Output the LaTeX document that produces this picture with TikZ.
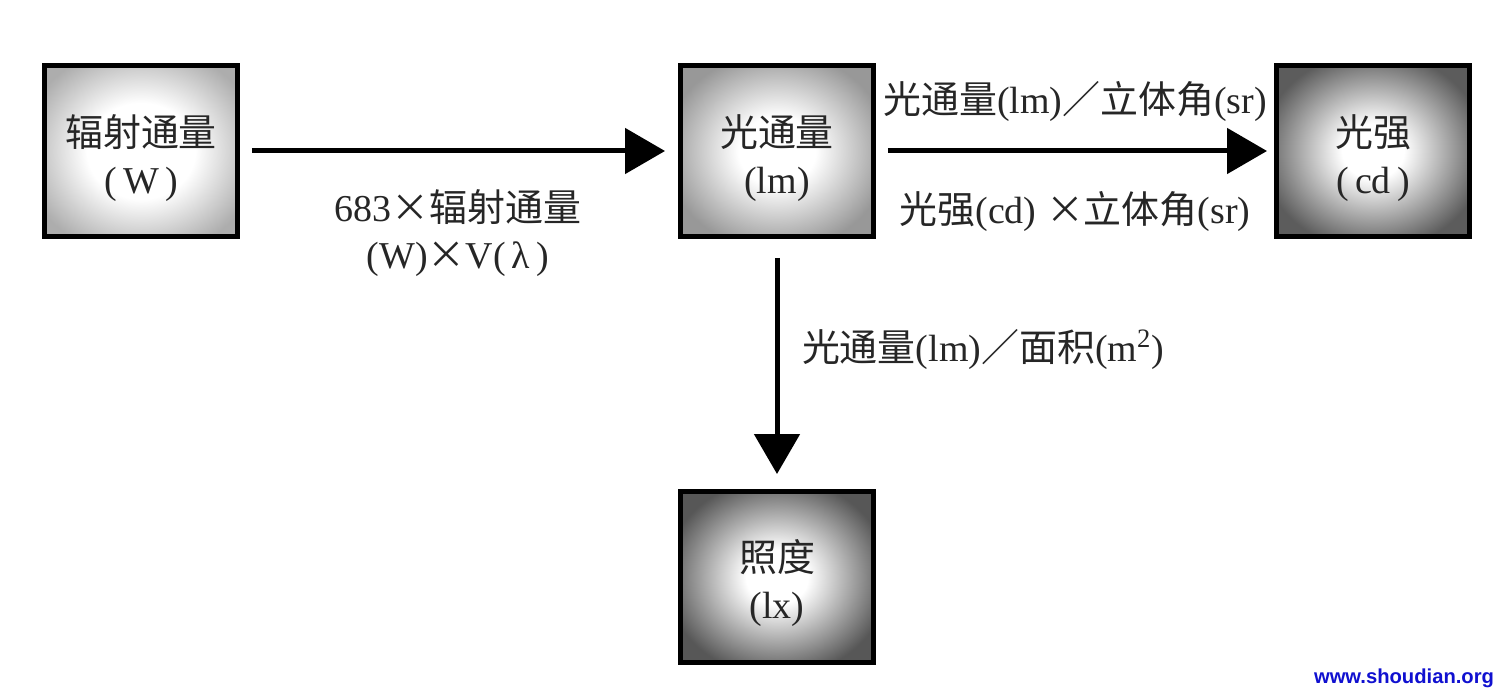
\documentclass[tikz,border=0pt]{standalone}
\usepackage{fontspec}
\setmainfont{Liberation Serif}
\newfontfamily\cjk{Noto Sans CJK SC}
\newfontfamily\wmfont{Liberation Sans}
\usetikzlibrary{arrows.meta}
\definecolor{txt}{HTML}{262626}
\definecolor{gA}{HTML}{ADADAD}
\definecolor{gB}{HTML}{989898}
\definecolor{gC}{HTML}{5C5C5C}
\definecolor{gD}{HTML}{575757}
\definecolor{wmblue}{HTML}{1010D0}
\pgfdeclareradialshading{glowA}{\pgfpoint{0bp}{0bp}}{color(0bp)=(white); color(14bp)=(white); color(31bp)=(gA); color(50bp)=(gA)}
\pgfdeclareradialshading{glowB}{\pgfpoint{0bp}{0bp}}{color(0bp)=(white); color(10bp)=(white); color(29bp)=(gB); color(50bp)=(gB)}
\pgfdeclareradialshading{glowC}{\pgfpoint{0bp}{0bp}}{color(0bp)=(white); color(8bp)=(white); color(29bp)=(gC); color(50bp)=(gC)}
\pgfdeclareradialshading{glowD}{\pgfpoint{0bp}{0bp}}{color(0bp)=(white); color(8bp)=(white); color(29bp)=(gD); color(50bp)=(gD)}
\begin{document}
\begin{tikzpicture}[x=0.02cm,y=-0.02cm,
  box/.style={draw=black, line width=0.1cm, minimum width=3.86cm, minimum height=3.42cm,
    inner sep=0pt},
  lbl/.style={text=txt, align=center, inner sep=0pt, font=\fontsize{21.6}{26.8}\selectfont},
  arr/.style={line width=0.1cm, -{Triangle[length=0.8cm,width=0.9cm]}}]
\fill[white] (0,0) rectangle (1500,692);
\useasboundingbox (0,0) rectangle (1500,692);

\node[box, shading=glowA] (rad) at (141,151) {};
\node[box, shading=glowB] (lum) at (777,151) {};
\node[box, shading=glowC] (int) at (1373,151) {};
\node[box, shading=glowD] (ill) at (777,577) {};

\node[lbl, yshift=-0.14cm] (radt) at (rad) {{\cjk 辐射通量}\\(\,W\,)};
\node[lbl, yshift=-0.14cm] (lumt) at (lum) {{\cjk 光通量}\\(lm)};
\node[lbl, yshift=-0.14cm] (intt) at (int) {{\cjk 光强}\\(\,cd\,)};
\node[lbl, yshift=-0.12cm] (illt) at (ill) {{\cjk 照度}\\(lx)};

\draw[arr, shorten <=0.24cm, shorten >=0.26cm] (rad.east) -- (lum.west);
\draw[arr, shorten <=0.24cm, shorten >=0.14cm] (lum.east) -- (int.west);
\draw[arr, shorten <=0.38cm, shorten >=0.30cm] (lum.south) -- (ill.north);

\node[lbl] (l1) at (458,233) {683{\cjk ×辐射通量}\\(W){\cjk ×}V(\,λ\,)};
\node[lbl] (l2) at (1075,101) {{\cjk 光通量}(lm){\cjk ／立体角}(sr)};
\node[lbl] (l3) at (1075,211) {{\cjk 光强}(cd) {\cjk ×立体角}(sr)};
\node[lbl] (l4) at (983,349) {{\cjk 光通量}(lm){\cjk ／面积}(m\textsuperscript{2})};

\node[text=wmblue, inner sep=0pt, font=\wmfont\bfseries\fontsize{11.5}{13}\selectfont] (wm) at (1404,678) {www.shoudian.org};
\end{tikzpicture}
\end{document}
